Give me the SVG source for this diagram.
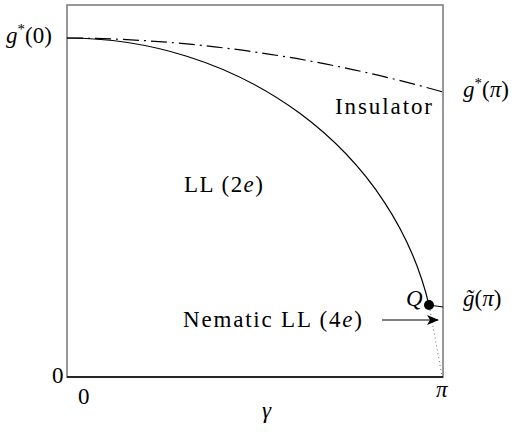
<svg xmlns="http://www.w3.org/2000/svg" width="520" height="433" viewBox="0 0 520 433">
<defs>
<marker id="arr" viewBox="0 0 12 10" refX="11" refY="5" markerWidth="12" markerHeight="10" markerUnits="userSpaceOnUse" orient="auto">
<path d="M0,0 L12,5 L0,10 L3,5 Z" fill="#000"/>
</marker>
</defs>
<g id="frame">
<rect x="67" y="5" width="376" height="372" fill="none" stroke="#777" stroke-width="1.5"/>
<line x1="67" y1="377" x2="443" y2="377" stroke="#000" stroke-width="1.5"/>
</g>
<g id="connectors" fill="none" stroke="#000" stroke-width="1.2">
<path d="M67,38 Q255,39 443,92" stroke-dasharray="16 5 2 5"/>
<path d="M67,38 A370.5,339 0 0 1 429,305"/>
<line x1="429" y1="305" x2="443" y2="307"/>
<line x1="430" y1="310" x2="442" y2="376" stroke="#666" stroke-width="1" stroke-dasharray="1 3"/>
<line x1="382" y1="320" x2="438" y2="320" marker-end="url(#arr)"/>
</g>
<g id="Q"><circle cx="429" cy="305" r="5" fill="#000"/><text font-family="Liberation Serif" font-size="23" font-style="italic" x="406" y="306">Q</text></g>
<g id="labels">
<text font-family="Liberation Serif" font-size="23" x="6" y="43"><tspan font-style="italic">g</tspan><tspan dy="-9" font-size="15">*</tspan><tspan dy="9">(0)</tspan></text>
<text font-family="Liberation Serif" font-size="23" x="463" y="97"><tspan font-style="italic">g</tspan><tspan dy="-9" font-size="15">*</tspan><tspan dy="9">(</tspan><tspan font-style="italic">&#960;</tspan>)</text>
<text font-family="Liberation Serif" font-size="23" x="335" y="114" textLength="97">Insulator</text>
<text font-family="Liberation Serif" font-size="23" x="184" y="192" textLength="79">LL (2<tspan font-style="italic">e</tspan>)</text>
<text font-family="Liberation Serif" font-size="23" x="463" y="306"><tspan font-style="italic">g&#771;</tspan>(<tspan font-style="italic">&#960;</tspan>)</text>
<text font-family="Liberation Serif" font-size="23" x="183" y="327" textLength="179">Nematic LL (4<tspan font-style="italic">e</tspan>)</text>
<text font-family="Liberation Serif" font-size="23" x="52" y="383">0</text>
<text font-family="Liberation Serif" font-size="23" x="78" y="404">0</text>
<text font-family="Liberation Serif" font-size="23" font-style="italic" x="436" y="397">&#960;</text>
<text font-family="Liberation Serif" font-size="23" font-style="italic" x="262" y="418">&#947;</text>
</g>
</svg>
